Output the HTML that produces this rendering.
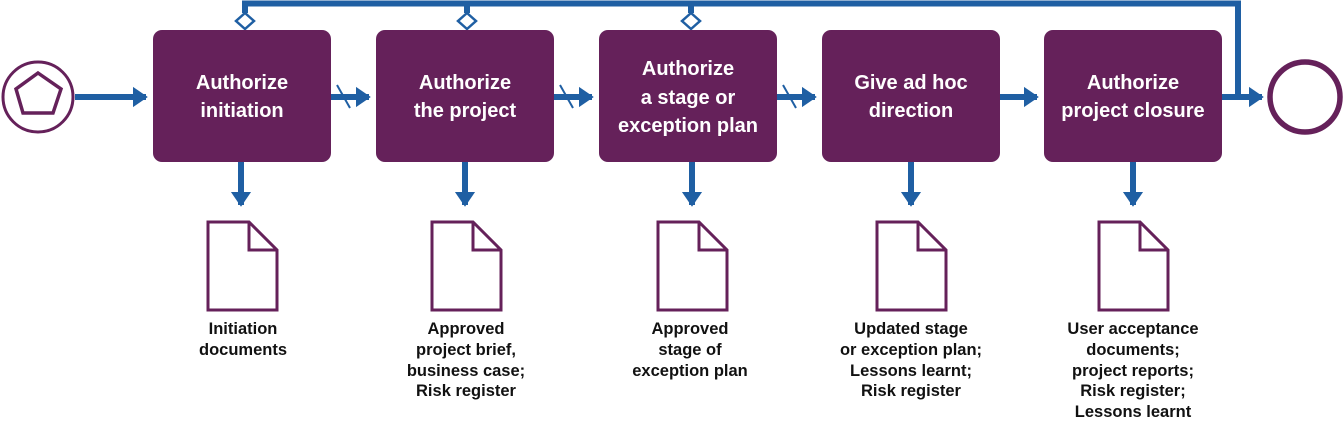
<!DOCTYPE html>
<html><head><style>
html,body{margin:0;padding:0;background:#fff}
svg{display:block}
.bt{font-family:"Liberation Sans Narrow","Liberation Sans",sans-serif;font-weight:bold;font-size:20px;fill:#fff;text-anchor:middle}
.lt{font-family:"Liberation Sans Narrow","Liberation Sans",sans-serif;font-weight:bold;font-size:16.5px;fill:#111;text-anchor:middle}
</style></head><body>
<svg width="1344" height="422" viewBox="0 0 1344 422" xmlns="http://www.w3.org/2000/svg">
<defs>
<marker id="ah" markerWidth="4" markerHeight="4" refX="2.2" refY="2" orient="auto" markerUnits="strokeWidth">
<path d="M0,0.3 L2.5,2 L0,3.7 z" fill="#1f5fa3"/>
</marker>
</defs>
<g stroke="#1f5fa3" stroke-width="6" fill="none">
<polyline points="245,13 245,3.5 1238,3.5 1238,97"/>
<line x1="467" y1="3.5" x2="467" y2="13"/>
<line x1="691" y1="3.5" x2="691" y2="13"/>
<line x1="75" y1="97" x2="146" y2="97" marker-end="url(#ah)"/>
<line x1="331" y1="97" x2="369" y2="97" marker-end="url(#ah)"/>
<line x1="554" y1="97" x2="592" y2="97" marker-end="url(#ah)"/>
<line x1="777" y1="97" x2="815" y2="97" marker-end="url(#ah)"/>
<line x1="1000" y1="97" x2="1037" y2="97" marker-end="url(#ah)"/>
<line x1="1222" y1="97" x2="1262" y2="97" marker-end="url(#ah)"/>
<line x1="241" y1="162" x2="241" y2="205" marker-end="url(#ah)"/>
<line x1="465" y1="162" x2="465" y2="205" marker-end="url(#ah)"/>
<line x1="692" y1="162" x2="692" y2="205" marker-end="url(#ah)"/>
<line x1="911" y1="162" x2="911" y2="205" marker-end="url(#ah)"/>
<line x1="1133" y1="162" x2="1133" y2="205" marker-end="url(#ah)"/>
</g>
<g stroke="#1f5fa3" stroke-width="2">
<line x1="337" y1="85" x2="350" y2="108"/>
<line x1="560" y1="85" x2="573" y2="108"/>
<line x1="783" y1="85" x2="796" y2="108"/>
</g>
<g fill="#fff" stroke="#1f5fa3" stroke-width="2.5">
<path d="M245,13 L254,21 L245,29 L236,21 z"/>
<path d="M467,13 L476,21 L467,29 L458,21 z"/>
<path d="M691,13 L700,21 L691,29 L682,21 z"/>
</g>
<circle cx="38" cy="97" r="35" fill="#fff" stroke="#65215a" stroke-width="3"/>
<path d="M38,73 L61,89 L53,113 L23,113 L16,89 z" fill="none" stroke="#65215a" stroke-width="3.5"/>
<circle cx="1305" cy="97" r="35" fill="#fff" stroke="#65215a" stroke-width="5.5"/>
<g fill="#65215a">
<rect x="153" y="30" width="178" height="132" rx="9"/>
<rect x="376" y="30" width="178" height="132" rx="9"/>
<rect x="599" y="30" width="178" height="132" rx="9"/>
<rect x="822" y="30" width="178" height="132" rx="9"/>
<rect x="1044" y="30" width="178" height="132" rx="9"/>
</g>
<text class="bt" x="242" y="89">Authorize</text><text class="bt" x="242" y="117">initiation</text>
<text class="bt" x="465" y="89">Authorize</text><text class="bt" x="465" y="117">the project</text>
<text class="bt" x="688" y="75">Authorize</text><text class="bt" x="688" y="104">a stage or</text><text class="bt" x="688" y="132">exception plan</text>
<text class="bt" x="911" y="89">Give ad hoc</text><text class="bt" x="911" y="117">direction</text>
<text class="bt" x="1133" y="89">Authorize</text><text class="bt" x="1133" y="117">project closure</text>
<g fill="#fff" stroke="#65215a" stroke-width="3">
<path d="M208,222 L249,222 L277,250 L277,310 L208,310 z M249,222 L249,250 L277,250"/>
<path d="M432,222 L473,222 L501,250 L501,310 L432,310 z M473,222 L473,250 L501,250"/>
<path d="M658,222 L699,222 L727,250 L727,310 L658,310 z M699,222 L699,250 L727,250"/>
<path d="M877,222 L918,222 L946,250 L946,310 L877,310 z M918,222 L918,250 L946,250"/>
<path d="M1099,222 L1140,222 L1168,250 L1168,310 L1099,310 z M1140,222 L1140,250 L1168,250"/>
</g>
<text class="lt" x="243" y="334">Initiation</text><text class="lt" x="243" y="355">documents</text>
<text class="lt" x="466" y="334">Approved</text><text class="lt" x="466" y="355">project brief,</text><text class="lt" x="466" y="376">business case;</text><text class="lt" x="466" y="396">Risk register</text>
<text class="lt" x="690" y="334">Approved</text><text class="lt" x="690" y="355">stage of</text><text class="lt" x="690" y="376">exception plan</text>
<text class="lt" x="911" y="334">Updated stage</text><text class="lt" x="911" y="355">or exception plan;</text><text class="lt" x="911" y="376">Lessons learnt;</text><text class="lt" x="911" y="396">Risk register</text>
<text class="lt" x="1133" y="334">User acceptance</text><text class="lt" x="1133" y="355">documents;</text><text class="lt" x="1133" y="376">project reports;</text><text class="lt" x="1133" y="396">Risk register;</text><text class="lt" x="1133" y="417">Lessons learnt</text>
</svg>
</body></html>
